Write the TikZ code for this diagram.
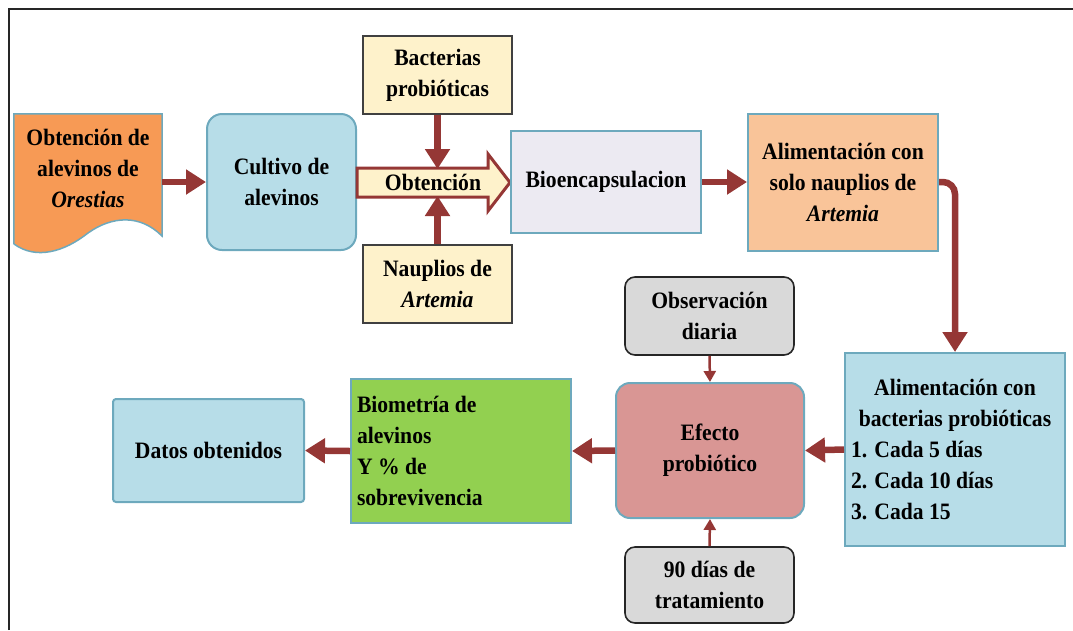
\documentclass[tikz,border=0pt]{standalone}
\usepackage{fontspec}
\setmainfont{Liberation Serif}[FakeStretch=0.92]
\usetikzlibrary{arrows.meta}
\definecolor{arrowred}{HTML}{953735}
\definecolor{tealb}{HTML}{6DA9BD}
\definecolor{orangeA}{HTML}{F79A55}
\definecolor{orangeL}{HTML}{F9C499}
\definecolor{blueL}{HTML}{B7DDE8}
\definecolor{lavL}{HTML}{ECEAF2}
\definecolor{creamL}{HTML}{FEF2CB}
\definecolor{roseL}{HTML}{D99694}
\definecolor{greenA}{HTML}{92D050}
\definecolor{grayL}{HTML}{D9D9D9}
\tikzset{
  txt/.style={font=\bfseries\fontsize{23.5}{31}\selectfont, align=center, inner sep=0pt},
  boxt/.style={draw=tealb, line width=2pt, inner sep=0pt, txt},
  boxc/.style={draw=black!75, line width=2pt, fill=creamL, inner sep=0pt, txt},
  boxg/.style={draw=black!85, line width=1.6pt, fill=grayL, rounded corners=10pt, inner sep=0pt, txt},
  bigarr/.style={draw=arrowred, line width=6.5pt, -{Triangle[length=20pt,width=24pt]}},
  thinarr/.style={draw=arrowred, line width=2.5pt, -{Triangle[length=11pt,width=12pt]}},
}
\begin{document}
\begin{tikzpicture}[x=1pt,y=-1pt]
\useasboundingbox (0,0) rectangle (1073,630);
% frame
\draw[line width=2pt, black!85] (9,630) -- (9,9) -- (1073,9);
% document shape
\node[minimum width=148pt, minimum height=136pt, inner sep=0pt] (ore) at (88,182) {};
\path[fill=orangeA, draw=tealb, line width=1.5pt]
  (ore.north west) -- (ore.north east) -- (162,236)
  .. controls (140,214) and (112,216) .. (88,233)
  .. controls (64,252) and (36,260) .. (14,244) -- cycle;
\node[txt] (oret) at (88,168) {Obtención de\\alevinos de\\\textit{Orestias}};
% boxes
\node[boxt, fill=blueL, rounded corners=15pt, minimum width=149pt, minimum height=136pt] (cul) at (281.5,182) {Cultivo de\\alevinos};
\node[boxc, minimum width=149pt, minimum height=78pt] (bac) at (437.5,75) {Bacterias\\probióticas};
\node[boxc, minimum width=149pt, minimum height=78pt] (nau) at (437.5,284) {Nauplios de\\\textit{Artemia}};
\path[fill=creamL, draw=arrowred, line width=3pt, line join=miter]
  (cul.east |- 0,168) -- (488,168) -- (488,154) -- (510,182.5) -- (488,211) -- (488,197) -- (cul.east |- 0,197) -- cycle;
\node[txt] (obt) at (433,182) {Obtención};
\coordinate (obttop) at (437.5,169);
\coordinate (obtbot) at (437.5,196);
\node[boxt, fill=lavL, minimum width=190pt, minimum height=102pt] (bio) at (606,182) {Bioencapsulacion};
\node[boxt, fill=orangeL, minimum width=190pt, minimum height=137pt] (als) at (843,182) {Alimentación con\\solo nauplios de\\\textit{Artemia}};
\node[boxt, fill=blueL, minimum width=220pt, minimum height=193pt, text width=208pt, align=flush left] (alb) at (955,449.5)
  {\makebox[208pt][c]{Alimentación con}\\\makebox[208pt][c]{bacterias probióticas}\\1. Cada 5 días\\2. Cada 10 días\\3. Cada 15};
\node[boxt, fill=roseL, rounded corners=14pt, minimum width=188pt, minimum height=135pt] (efe) at (710,450.5) {Efecto\\probiótico};
\node[boxg, minimum width=169pt, minimum height=78pt] (obs) at (709.5,316) {Observación\\diaria};
\node[boxg, minimum width=169pt, minimum height=76pt] (nov) at (709.5,585) {90 días de\\tratamiento};
\node[boxt, fill=greenA, minimum width=220pt, minimum height=144pt, text width=208pt, align=flush left] (bim) at (461,451)
  {Biometría de\\alevinos\\Y \% de\\sobrevivencia};
\node[boxt, fill=blueL, rounded corners=3pt, minimum width=191pt, minimum height=103pt] (dat) at (208.5,450.5) {Datos obtenidos};
% connectors
\draw[bigarr] (ore.east) -- (cul.west);
\draw[bigarr] (bac.south) -- (obttop);
\draw[bigarr] (nau.north) -- (obtbot);
\draw[bigarr] (bio.east) -- (als.west);
\draw[bigarr, rounded corners=12pt] (als.east) -| (alb.north);
\draw[bigarr] (alb.west) -- (efe.east);
\draw[bigarr] (efe.west) -- (bim.east);
\draw[bigarr] (bim.west) -- (dat.east);
\draw[thinarr] (obs.south) -- (efe.north);
\draw[thinarr] (nov.north) -- (efe.south);
\end{tikzpicture}
\end{document}
